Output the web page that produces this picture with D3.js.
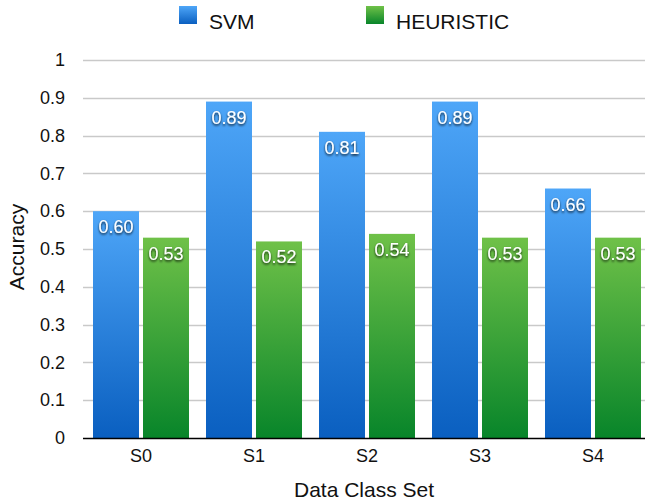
<!DOCTYPE html>
<html>
<head>
<meta charset="utf-8">
<script src="https://cdn.jsdelivr.net/npm/d3@7"></script>
<style>
  html, body { margin: 0; padding: 0; background: #fff; }
  svg { display: block; font-family: "Liberation Sans", Arial, Helvetica, sans-serif; }
</style>
</head>
<body>
<svg id="chart" width="645" height="504"></svg>
<script>
// Accuracy per data class set
const categories = ["S0", "S1", "S2", "S3", "S4"];
const seriesNames = ["SVM", "HEURISTIC"];
const svmValues = [0.60, 0.89, 0.81, 0.89, 0.66];
const heuristicValues = [0.53, 0.52, 0.54, 0.53, 0.53];
const yTicks = [0, 0.1, 0.2, 0.3, 0.4, 0.5, 0.6, 0.7, 0.8, 0.9, 1];
const yTickLabels = ["0", "0.1", "0.2", "0.3", "0.4", "0.5", "0.6", "0.7", "0.8", "0.9", "1"];

const seriesValues = [svmValues, heuristicValues];
const gradients = [
  { id: "gradSvm", top: "#4ea6f8", bottom: "#0a5fc0" },
  { id: "gradHeur", top: "#6fc148", bottom: "#08852a" }
];

const svg = d3.select("#chart");
const plot = { left: 83, right: 645, top: 60, bottom: 438 };

// Gradients and label shadow
const defs = svg.append("defs");
gradients.forEach(g => {
  const lg = defs.append("linearGradient")
    .attr("id", g.id).attr("x1", 0).attr("y1", 0).attr("x2", 0).attr("y2", 1);
  lg.append("stop").attr("offset", "0%").attr("stop-color", g.top);
  lg.append("stop").attr("offset", "100%").attr("stop-color", g.bottom);
});
const f = defs.append("filter").attr("id", "shadow")
  .attr("x", "-20%").attr("y", "-30%").attr("width", "140%").attr("height", "170%");
f.append("feDropShadow").attr("dx", 0).attr("dy", 1.5)
  .attr("stdDeviation", 1).attr("flood-color", "#000").attr("flood-opacity", 0.85);

// Scales
const y = d3.scaleLinear().domain([0, 1]).range([plot.bottom, plot.top]);
const x0 = d3.scaleBand().domain(categories).range([84.5, 649.5]).paddingInner(0).paddingOuter(0);
const innerPad = 8.5;
const x1 = d3.scaleBand().domain(seriesNames)
  .range([innerPad, x0.bandwidth() - innerPad]).paddingInner(0.08);

// Gridlines
svg.append("g").selectAll("line")
  .data(yTicks.filter(t => t > 0))
  .join("line")
  .attr("x1", plot.left).attr("x2", plot.right)
  .attr("y1", d => Math.round(y(d)) + 0.5).attr("y2", d => Math.round(y(d)) + 0.5)
  .attr("stroke", "#c9c9c9").attr("stroke-width", 1.5);

// Y axis tick labels
const yAxis = d3.axisLeft(y).tickValues(yTicks)
  .tickFormat((d, i) => yTickLabels[i]).tickSize(0).tickPadding(0);
const yG = svg.append("g").attr("transform", `translate(65,0)`).call(yAxis);
yG.select(".domain").remove();
yG.selectAll("text").attr("font-size", 18).attr("fill", "#111")
  .attr("font-family", "Liberation Sans, Arial, sans-serif");

// Bars
const groups = svg.append("g").selectAll("g")
  .data(categories)
  .join("g")
  .attr("transform", d => `translate(${x0(d)},0)`);

groups.selectAll("rect")
  .data((d, i) => seriesNames.map((s, k) => ({ s, k, v: seriesValues[k][i] })))
  .join("rect")
  .attr("x", d => x1(d.s))
  .attr("width", x1.bandwidth())
  .attr("y", d => y(d.v))
  .attr("height", d => y(0) - y(d.v))
  .attr("fill", d => `url(#${gradients[d.k].id})`);

groups.selectAll("text.value")
  .data((d, i) => seriesNames.map((s, k) => ({ s, k, v: seriesValues[k][i] })))
  .join("text")
  .attr("class", "value")
  .attr("x", d => x1(d.s) + x1.bandwidth() / 2)
  .attr("y", d => y(d.v) + 22)
  .attr("text-anchor", "middle")
  .attr("font-size", 18)
  .attr("fill", "#fff")
  .attr("filter", "url(#shadow)")
  .text(d => d.v.toFixed(2));

// Baseline
svg.append("line")
  .attr("x1", plot.left).attr("x2", plot.right)
  .attr("y1", y(0) + 0.5).attr("y2", y(0) + 0.5)
  .attr("stroke", "#000").attr("stroke-width", 1.5);

// X axis tick labels
const xAxis = d3.axisBottom(x0).tickSize(0).tickPadding(0);
const xG = svg.append("g").attr("transform", `translate(0,${y(0) + 11})`).call(xAxis);
xG.select(".domain").remove();
xG.selectAll("text").attr("font-size", 18).attr("fill", "#111")
  .attr("font-family", "Liberation Sans, Arial, sans-serif");

// Axis titles
svg.append("text")
  .attr("x", 364).attr("y", 497)
  .attr("text-anchor", "middle").attr("font-size", 21).attr("fill", "#111")
  .text("Data Class Set");
svg.append("text")
  .attr("transform", "translate(24,247) rotate(-90)")
  .attr("text-anchor", "middle").attr("font-size", 21).attr("fill", "#111")
  .text("Accuracy");

// Legend
const legendPos = [179, 366];
const legend = svg.append("g").selectAll("g")
  .data(seriesNames)
  .join("g")
  .attr("transform", (d, i) => `translate(${legendPos[i]},6)`);
legend.append("rect")
  .attr("width", 18).attr("height", 18)
  .attr("fill", (d, i) => `url(#${gradients[i].id})`);
legend.append("text")
  .attr("x", 30).attr("y", 17).attr("dominant-baseline", "middle")
  .attr("font-size", 21).attr("fill", "#111")
  .text(d => d);
</script>
</body>
</html>
